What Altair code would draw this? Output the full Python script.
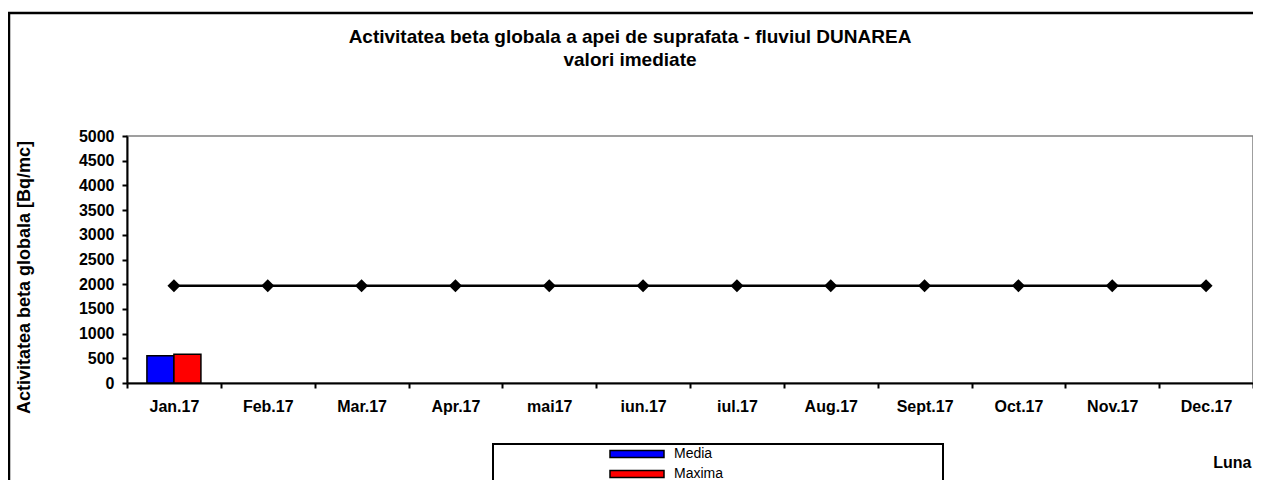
import altair as alt
import pandas as pd

# ---- data ----
months = ["Jan.17", "Feb.17", "Mar.17", "Apr.17", "mai17", "iun.17",
          "iul.17", "Aug.17", "Sept.17", "Oct.17", "Nov.17", "Dec.17"]
series = ["Media", "Maxima"]
bar_month = ["Jan.17", "Jan.17"]
bar_series = ["Media", "Maxima"]
bar_values = [550, 580]
limit_values = [1970, 1970, 1970, 1970, 1970, 1970,
                1970, 1970, 1970, 1970, 1970, 1970]
y_ticks = [0, 500, 1000, 1500, 2000, 2500, 3000, 3500, 4000, 4500, 5000]

title_lines = ["Activitatea beta globala a apei de suprafata - fluviul DUNAREA",
               "valori imediate"]
y_title = "Activitatea beta globala [Bq/mc]"
x_title = "Luna"

FONT = "Liberation Sans"

bars_df = pd.DataFrame({"luna": bar_month, "serie": bar_series, "valoare": bar_values})
line_df = pd.DataFrame({"luna": months, "valoare": limit_values})
one = alt.Data(values=[{"k": 1}])

x_scale = alt.Scale(domain=months, paddingInner=0, paddingOuter=0)
y_scale = alt.Scale(domain=[0, 5000], nice=False)

x_axis = alt.Axis(
    title=x_title, labelAngle=0, tickBand="extent",
    labelPadding=10, tickSize=5,
    titleX=1124, titleY=79, titleAlign="right", titleBaseline="middle",
    titleFontSize=16, titleFont=FONT, titleFontWeight="bold",
)
y_axis = alt.Axis(
    title=y_title, values=y_ticks, format="d", tickSize=5, labelPadding=8,
    titleX=-103, titleY=141, titleAngle=270, titleAlign="center",
    titleBaseline="middle", titleFontSize=18, titleFont=FONT, titleFontWeight="bold",
)

frame = alt.Chart(one).mark_rect(
    fill="white", fillOpacity=0, stroke="black", strokeWidth=2.5
).encode(x=alt.value(-118), x2=alt.value(1400), y=alt.value(-123), y2=alt.value(600))

title = alt.Chart(one).mark_text(
    text=title_lines, font=FONT, fontSize=19, fontWeight="bold", color="black",
    align="center", baseline="alphabetic", lineHeight=23,
).encode(x=alt.value(503), y=alt.value(-93))

bars = alt.Chart(bars_df).mark_bar(stroke="black", strokeWidth=1.5).encode(
    x=alt.X("luna:N", sort=months, scale=x_scale, axis=x_axis),
    xOffset=alt.XOffset("serie:N", sort=series,
                        scale=alt.Scale(domain=series, paddingInner=0, paddingOuter=0.737)),
    y=alt.Y("valoare:Q", scale=y_scale, axis=y_axis),
    color=alt.Color(
        "serie:N", sort=series,
        scale=alt.Scale(domain=series, range=["#0000FF", "#FF0000"]),
        legend=alt.Legend(
            title=None, orient="none", legendX=503, legendY=311, padding=0,
            symbolType="M-5.4,-0.7L5.4,-0.7L5.4,0.7L-5.4,0.7Z", symbolSize=100,
            symbolStrokeColor="black", symbolStrokeWidth=1.5, symbolOpacity=1,
            labelFont=FONT, labelFontSize=14, labelColor="black",
            labelOffset=30, rowPadding=6,
        ),
    ),
)

line = alt.Chart(line_df).mark_line(
    color="black", strokeWidth=2.5,
    point=alt.OverlayMarkDef(shape="diamond", size=169, filled=True, color="black"),
).encode(
    x=alt.X("luna:N", sort=months, scale=x_scale, axis=x_axis),
    y=alt.Y("valoare:Q", scale=y_scale, axis=y_axis),
)

legend_box = alt.Chart(one).mark_rect(
    fill="white", stroke="black", strokeWidth=2
).encode(x=alt.value(366), x2=alt.value(816), y=alt.value(308), y2=alt.value(600))

chart = alt.layer(frame, title, legend_box, bars, line).properties(
    width=1126, height=247,
    padding={"left": 119, "top": 128, "right": 0, "bottom": 97},
    autosize=alt.AutoSizeParams(type="none"),
).configure(background="white").configure_view(
    stroke="#808080", strokeWidth=1.5
).configure_axis(
    domainColor="black", domainWidth=2, tickColor="black", tickWidth=2,
    labelFont=FONT, labelFontSize=16, labelFontWeight="bold", labelColor="black",
    grid=False,
)

chart.save("out.html", embed_options={"renderer": "svg", "actions": False})
